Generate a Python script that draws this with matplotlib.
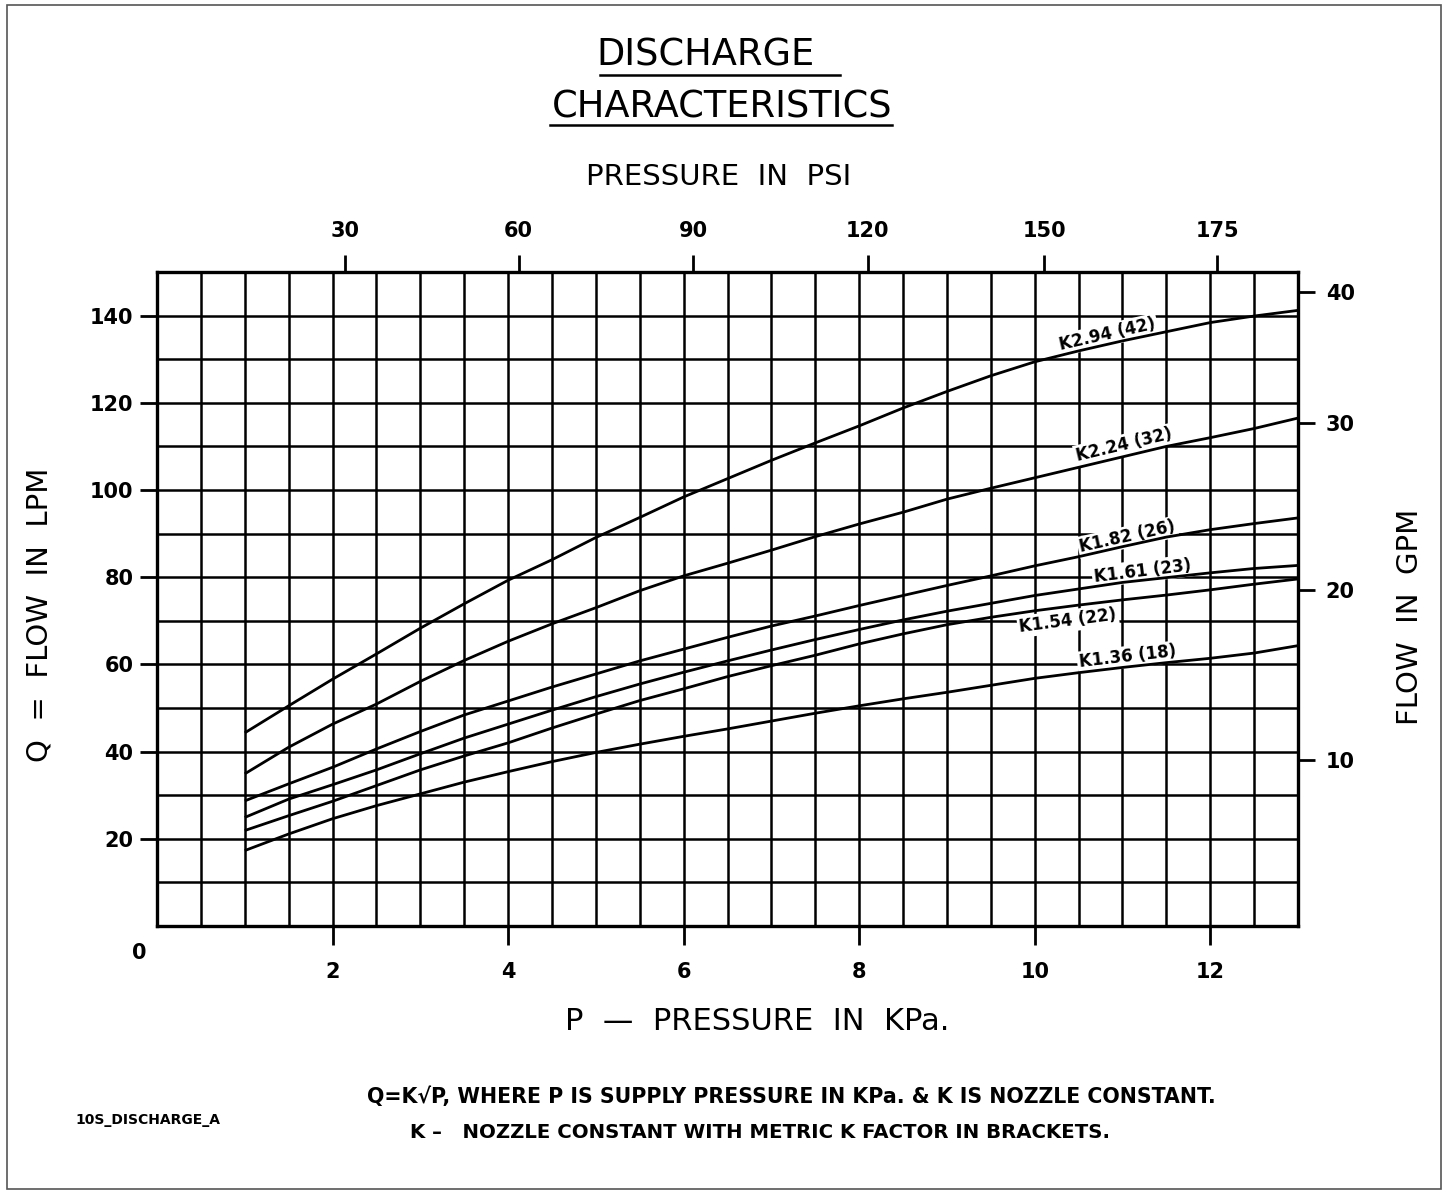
import matplotlib.pyplot as plt
import numpy as np
from matplotlib.lines import Line2D
from matplotlib.patches import Rectangle

plt.rcParams["font.family"] = ["DejaVu Sans"]

# pressure (x axis, "KPa" scale of the chart) where curves were read
pressure = [1.0, 1.5, 2.0, 2.5, 3.0, 3.5, 4.0, 4.5, 5.0, 5.5, 6.0, 6.5, 7.0,
            7.5, 8.0, 8.5, 9.0, 9.5, 10.0, 10.5, 11.0, 11.5, 12.0, 12.5, 13.0]

# flow in LPM for each nozzle
k294 = [44.3, 50.5, 56.6, 62.4, 68.3, 73.9, 79.3, 84.0, 89.1, 93.7, 98.4, 102.6, 106.8,
        110.8, 114.7, 118.8, 122.6, 126.2, 129.4, 131.9, 134.2, 136.3, 138.4, 139.9, 141.2]
k224 = [34.9, 41.0, 46.3, 50.9, 56.1, 60.9, 65.3, 69.3, 73.0, 76.9, 80.3, 83.2, 86.2,
        89.3, 92.2, 94.9, 97.9, 100.4, 102.8, 105.2, 107.6, 110.0, 112.0, 114.1, 116.5]
k182 = [28.7, 32.6, 36.4, 40.6, 44.6, 48.4, 51.6, 54.8, 57.8, 60.8, 63.5, 66.2, 68.8,
        71.1, 73.5, 75.8, 78.1, 80.3, 82.6, 84.7, 87.0, 89.2, 90.9, 92.3, 93.6]
k161 = [24.9, 29.1, 32.4, 35.8, 39.5, 43.1, 46.3, 49.5, 52.6, 55.5, 58.2, 60.8, 63.3,
        65.7, 68.0, 70.2, 72.2, 74.0, 75.8, 77.3, 78.8, 79.9, 81.0, 82.0, 82.7]
k154 = [21.9, 25.3, 28.6, 32.2, 35.8, 39.0, 42.0, 45.4, 48.6, 51.7, 54.4, 57.2, 59.7,
        62.1, 64.7, 67.0, 69.1, 70.8, 72.3, 73.6, 74.8, 75.9, 77.1, 78.4, 79.6]
k136 = [17.3, 21.1, 24.6, 27.6, 30.3, 33.0, 35.4, 37.7, 39.8, 41.7, 43.5, 45.2, 47.0,
        48.8, 50.5, 52.1, 53.6, 55.2, 56.8, 58.1, 59.3, 60.4, 61.4, 62.6, 64.3]

series = [k294, k224, k182, k161, k154, k136]
curve_labels = ["K2.94 (42)", "K2.24 (32)", "K1.82 (26)", "K1.61 (23)", "K1.54 (22)", "K1.36 (18)"]

x_ticks = [2, 4, 6, 8, 10, 12]
y_ticks = [20, 40, 60, 80, 100, 120, 140]
psi_ticks = [2.14, 4.12, 6.11, 8.10, 10.11, 12.08]
psi_labels = ["30", "60", "90", "120", "150", "175"]
gpm_ticks = [145.3, 115.3, 77.1, 38.1]
gpm_labels = ["40", "30", "20", "10"]

# label anchor points (x, LPM) beside each curve
label_pos = [(10.83, 135.6), (11.02, 110.3), (11.06, 89.2),
             (11.23, 81.4), (10.38, 70.0), (11.06, 61.7)]

W, H = 1449, 1196
fig = plt.figure(figsize=(W / 100, H / 100), dpi=100)
ax = fig.add_axes([157 / W, 1 - 926 / H, (1298 - 157) / W, (926 - 272) / H])
ax.set_xlim(0, 13)
ax.set_ylim(0, 150)

ax.set_xticks(x_ticks)
ax.set_xticks(np.arange(0.5, 13, 0.5), minor=True)
ax.set_yticks(y_ticks)
ax.set_yticks(np.arange(10, 150, 10), minor=True)
ax.grid(which="both", color="black", lw=1.8)
ax.set_axisbelow(True)
ax.tick_params(which="minor", length=0)
ax.tick_params(axis="x", which="major", direction="out", length=14, width=2,
               pad=12, labelsize=15)
ax.tick_params(axis="y", which="major", direction="out", length=12, width=2,
               pad=5, labelsize=15)
for lab in ax.get_xticklabels() + ax.get_yticklabels():
    lab.set_fontweight("bold")
for sp in ax.spines.values():
    sp.set_linewidth(2.4)
ax.text(-0.12, -4, "0", ha="right", va="top", fontsize=15, fontweight="bold")

for vals in series:
    ax.plot(pressure, vals, color="black", lw=2.0, zorder=4, solid_capstyle="butt")

# curve labels rotated along the local slope
fig.canvas.draw()
for vals, text, (lx, ly) in zip(series, curve_labels, label_pos):
    y1 = np.interp(lx - 0.5, pressure, vals)
    y2 = np.interp(lx + 0.5, pressure, vals)
    p1 = ax.transData.transform((lx - 0.5, y1))
    p2 = ax.transData.transform((lx + 0.5, y2))
    ang = np.degrees(np.arctan2(p2[1] - p1[1], p2[0] - p1[0]))
    ax.text(lx, ly, text, rotation=ang, rotation_mode="anchor", ha="center",
            va="center", fontsize=12, fontweight="bold", zorder=3,
            bbox=dict(facecolor="white", edgecolor="none", pad=1.5))

top = ax.twiny()
top.set_xlim(ax.get_xlim())
top.set_xticks(psi_ticks)
top.set_xticklabels(psi_labels, fontsize=15, fontweight="bold")
top.tick_params(direction="out", length=12, width=2, pad=10)
for sp in top.spines.values():
    sp.set_visible(False)

right = ax.twinx()
right.set_ylim(ax.get_ylim())
right.set_yticks(gpm_ticks)
right.set_yticklabels(gpm_labels, fontsize=15, fontweight="bold")
right.tick_params(direction="out", length=12, width=2, pad=8)
for sp in right.spines.values():
    sp.set_visible(False)


def fx(px):
    return px / W


def fy(py):
    return 1 - py / H


fig.text(fx(706), fy(66), "DISCHARGE", ha="center", va="baseline", fontsize=26.5)
fig.text(fx(722), fy(117), "CHARACTERISTICS", ha="center", va="baseline", fontsize=26.5)
fig.add_artist(Line2D([fx(600), fx(840)], [fy(75), fy(75)], color="black", lw=1.8))
fig.add_artist(Line2D([fx(550), fx(892)], [fy(125), fy(125)], color="black", lw=1.8))

fig.text(fx(719), fy(177), "PRESSURE  IN  PSI", ha="center", va="center", fontsize=21)
fig.text(fx(757), fy(1021), "P  \u2014  PRESSURE  IN  KPa.", ha="center", va="center",
         fontsize=22)
fig.text(fx(40), fy(615), "Q  =  FLOW  IN  LPM", ha="center", va="center",
         rotation=90, fontsize=21)
fig.text(fx(1410), fy(617), "FLOW  IN  GPM", ha="center", va="center",
         rotation=90, fontsize=21)

fig.text(fx(367), fy(1097), "Q=K\u221aP, WHERE P IS SUPPLY PRESSURE IN KPa. & K IS NOZZLE CONSTANT.",
         ha="left", va="center", fontsize=14.8, fontweight="bold")
fig.text(fx(410), fy(1133), "K \u2013   NOZZLE CONSTANT WITH METRIC K FACTOR IN BRACKETS.",
         ha="left", va="center", fontsize=14.2, fontweight="bold")
fig.text(fx(75), fy(1120), "10S_DISCHARGE_A", ha="left", va="center", fontsize=10,
         fontweight="bold")

fig.add_artist(Rectangle((fx(7), fy(1189)), fx(1441) - fx(7), fy(5) - fy(1189),
                         fill=False, edgecolor="#555555", lw=1.2))

fig.savefig("out.png", dpi=100)
plt.close(fig)
